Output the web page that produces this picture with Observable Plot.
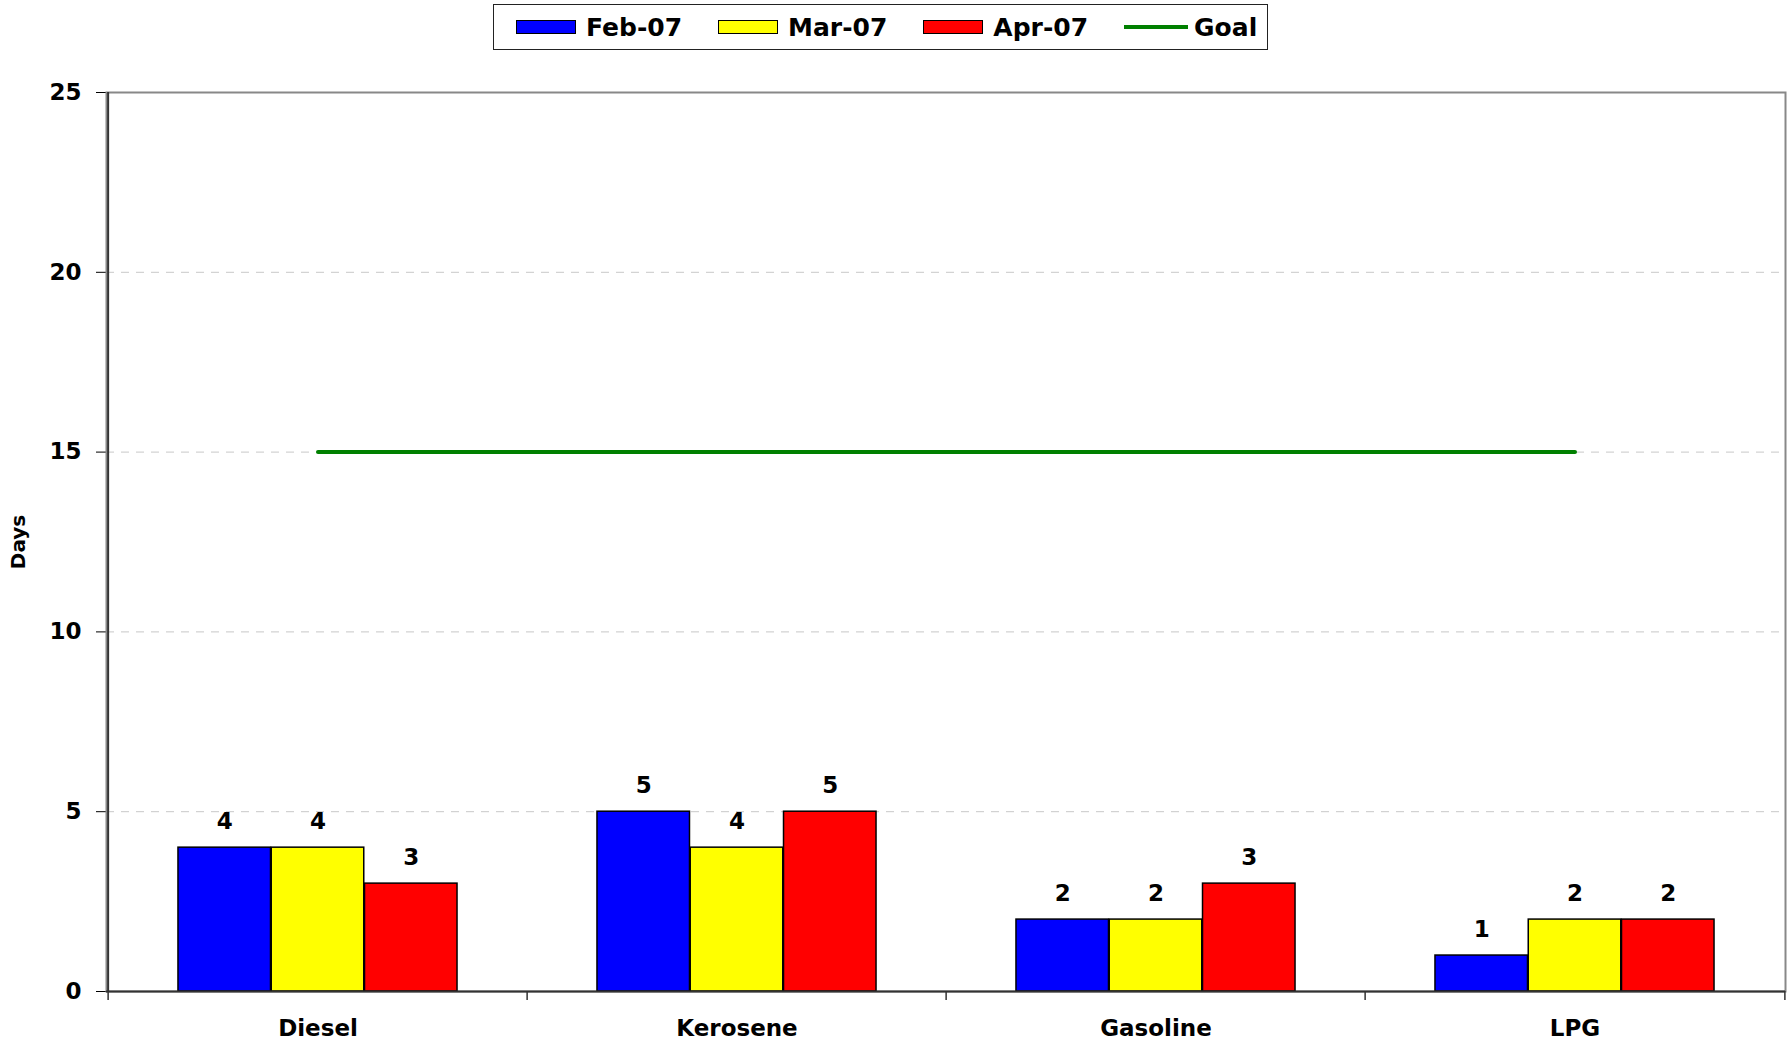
<!DOCTYPE html>
<html>
<head>
<meta charset="utf-8">
<script src="https://cdn.jsdelivr.net/npm/d3@7"></script>
<script src="https://cdn.jsdelivr.net/npm/@observablehq/plot@0.6"></script>
<style>
  body { margin: 0; background: #fff; font-family: "DejaVu Sans", sans-serif; }
  #legend-wrap { position: relative; height: 55px; }
  #legend {
    position: absolute; left: 493px; top: 4px; width: 775px; height: 46px;
    box-sizing: border-box; border: 1.5px solid #222; background: #fff;
    display: flex; align-items: center; padding-left: 22px;
    font-weight: bold; font-size: 25px; color: #000; white-space: nowrap;
  }
  .item { display: flex; align-items: center; margin-right: 36px; flex-shrink: 0; white-space: nowrap; }
  .item:last-child { margin-right: 0; }
  .sw { width: 60px; height: 14px; box-sizing: border-box; border: 1.5px solid #000; margin-right: 10px; flex-shrink: 0; }
  .ln { width: 64px; height: 4px; margin-right: 6px; flex-shrink: 0; }
</style>
</head>
<body>
<div id="legend-wrap"><div id="legend"></div></div>
<div id="chart"></div>
<script>
// ---- data ----
const categories = ["Diesel", "Kerosene", "Gasoline", "LPG"];
const seriesNames = ["Feb-07", "Mar-07", "Apr-07"];
const feb07 = [4, 5, 2, 1];
const mar07 = [4, 4, 2, 2];
const apr07 = [3, 5, 3, 2];
const goalName = "Goal";
const goal = [15, 15, 15, 15];
const yTicks = [0, 5, 10, 15, 20, 25];
const gridTicks = [5, 10, 15, 20];
const seriesColors = ["#0000ff", "#ffff00", "#ff0000"];
const goalColor = "#008000";
const yLabel = "Days";

// ---- layout ----
const W = 1790, H = 984;
const mL = 106, mR = 5, mT = 37, mB = 48;
const band = (W - mL - mR) / categories.length;
const barW = band * 0.2222;
const off = (band - 3 * barW) / 2;

const seriesValues = [feb07, mar07, apr07];
const seriesRows = seriesValues.map((vals, s) =>
  categories.map((c, i) => ({category: c, series: seriesNames[s], value: vals[i]})));
const goalRows = categories.map((c, i) => ({category: c, value: goal[i]}));

// legend
const legend = document.getElementById("legend");
seriesNames.forEach((n, i) => {
  const it = document.createElement("div"); it.className = "item";
  const sw = document.createElement("div"); sw.className = "sw"; sw.style.background = seriesColors[i];
  const t = document.createElement("span"); t.textContent = n;
  it.append(sw, t); legend.append(it);
});
{
  const it = document.createElement("div"); it.className = "item";
  const ln = document.createElement("div"); ln.className = "ln"; ln.style.background = goalColor;
  const t = document.createElement("span"); t.textContent = goalName;
  it.append(ln, t); legend.append(it);
}

const marks = [
  Plot.ruleY(gridTicks, {stroke: "#c8c8c8", strokeWidth: 1, strokeDasharray: "8,7"}),
  Plot.frame({stroke: "#888", strokeWidth: 2})
];
seriesRows.forEach((rows, s) => {
  marks.push(Plot.barY(rows, {
    x: "category", y: "value", fill: seriesColors[s], stroke: "#000", strokeWidth: 1.5,
    insetLeft: off + s * barW, insetRight: band - off - (s + 1) * barW
  }));
  marks.push(Plot.text(rows, {
    x: "category", y: "value", text: d => String(d.value),
    dx: (s - 1) * barW, dy: -26, lineAnchor: "middle", fontSize: 23, fontWeight: "bold", fill: "#000"
  }));
});
marks.push(
  Plot.lineY(goalRows, {x: "category", y: "value", stroke: goalColor, strokeWidth: 4}),
  Plot.ruleY([0], {stroke: "#333", strokeWidth: 2}),
  Plot.ruleX([categories[0]], {x: d => d, dx: -band / 2, stroke: "#333", strokeWidth: 2}),
  Plot.ruleX(categories, {x: d => d, y1: 0, y2: 0, dx: -band / 2, insetBottom: -9, stroke: "#333", strokeWidth: 1.5}),
  Plot.ruleX([categories[categories.length - 1]], {x: d => d, y1: 0, y2: 0, dx: band / 2, insetBottom: -9, stroke: "#333", strokeWidth: 1.5}),
  Plot.text([yLabel], {text: d => d, frameAnchor: "left", textAnchor: "middle", lineAnchor: "middle", rotate: -90, dx: -88, fontSize: 20, fontWeight: "bold", fill: "#000"})
);

const chart = Plot.plot({
  width: W, height: H,
  marginLeft: mL, marginRight: mR, marginTop: mT, marginBottom: mB,
  style: {fontFamily: "DejaVu Sans", fontSize: "23px", fontWeight: "bold", background: "#fff", color: "#000", overflow: "visible"},
  x: {domain: categories, padding: 0, tickSize: 0, tickPadding: 28, label: null},
  y: {domain: [0, 25], ticks: yTicks, tickSize: 10, tickPadding: 15, label: null},
  marks
});
document.getElementById("chart").append(chart);
</script>
</body>
</html>
